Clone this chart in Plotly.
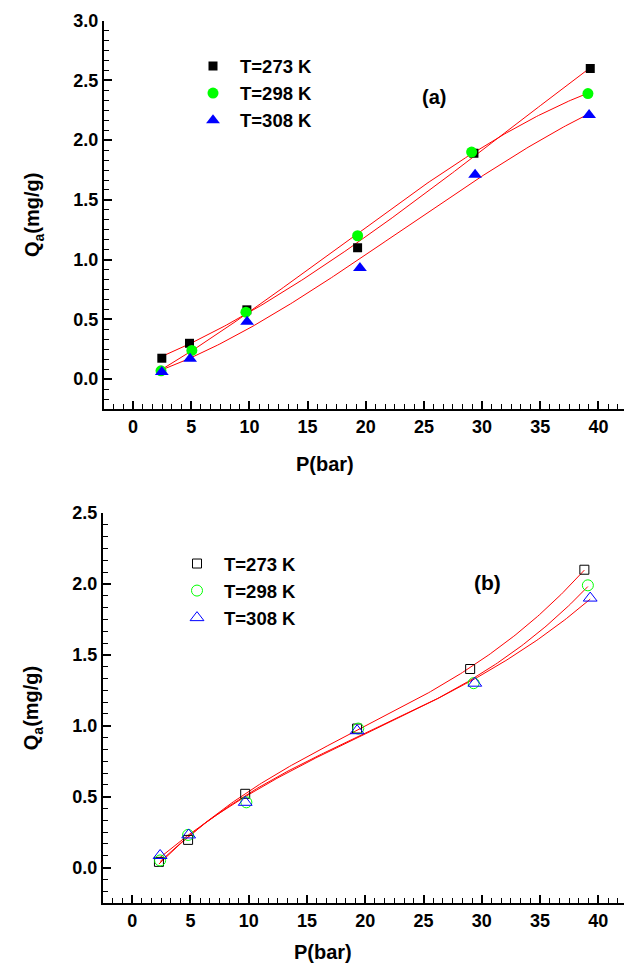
import numpy as np
import plotly.graph_objects as go

# ---- adsorption data: pressure P (bar) vs uptake Qa (mg/g) ----
temps = ["T=273 K", "T=298 K", "T=308 K"]

# panel (a)
p_a_273 = [2.47, 4.85, 9.78, 19.3, 29.3, 39.3]
q_a_273 = [0.175, 0.30, 0.58, 1.10, 1.89, 2.60]
p_a_298 = [2.40, 5.05, 9.70, 19.3, 29.1, 39.1]
q_a_298 = [0.07, 0.24, 0.56, 1.20, 1.90, 2.39]
p_a_308 = [2.47, 4.90, 9.80, 19.5, 29.4, 39.2]
q_a_308 = [0.06, 0.17, 0.48, 0.93, 1.71, 2.21]

# panel (b)
p_b_273 = [2.30, 4.80, 9.70, 19.3, 29.0, 38.8]
q_b_273 = [0.04, 0.195, 0.52, 0.98, 1.40, 2.10]
p_b_298 = [2.40, 4.80, 9.80, 19.4, 29.3, 39.1]
q_b_298 = [0.05, 0.23, 0.46, 0.98, 1.30, 1.99]
p_b_308 = [2.40, 4.85, 9.70, 19.3, 29.4, 39.3]
q_b_308 = [0.085, 0.23, 0.46, 0.965, 1.30, 1.90]

colors = ["#000000", "#00ff00", "#0000ff"]
sym_a = ["square", "circle", "triangle-up"]
sym_b = ["square-open", "circle-open", "triangle-up-open"]
size_a = [9, 11, 12]
size_b = [9, 11, 12]

FONT = "Liberation Sans, Arial, sans-serif"
W, H = 624, 965


def cubic_fit(p, q, n=200):
    coef = np.polyfit(p, q, 3)
    xs = np.linspace(min(p), max(p), n)
    return xs, np.polyval(coef, xs)


fig = go.Figure()

panel_a = [(p_a_273, q_a_273), (p_a_298, q_a_298), (p_a_308, q_a_308)]
panel_b = [(p_b_273, q_b_273), (p_b_298, q_b_298), (p_b_308, q_b_308)]

for i, (p, q) in enumerate(panel_a):
    xs, ys = cubic_fit(p, q)
    fig.add_trace(go.Scatter(x=xs, y=ys, mode="lines", line=dict(color="#ff0000", width=1),
                             showlegend=False, hoverinfo="skip", xaxis="x", yaxis="y"))
for i, (p, q) in enumerate(panel_a):
    fig.add_trace(go.Scatter(x=p, y=q, mode="markers", name=temps[i],
                             marker=dict(symbol=sym_a[i], size=size_a[i], color=colors[i],
                                         line=dict(width=0)),
                             xaxis="x", yaxis="y", legend="legend"))

for i, (p, q) in enumerate(panel_b):
    xs, ys = cubic_fit(p, q)
    fig.add_trace(go.Scatter(x=xs, y=ys, mode="lines", line=dict(color="#ff0000", width=1),
                             showlegend=False, hoverinfo="skip", xaxis="x2", yaxis="y2"))
for i, (p, q) in enumerate(panel_b):
    fig.add_trace(go.Scatter(x=p, y=q, mode="markers", name=temps[i],
                             marker=dict(symbol=sym_b[i], size=size_b[i], color=colors[i],
                                         line=dict(width=1, color=colors[i])),
                             xaxis="x2", yaxis="y2", legend="legend2"))


def px_x(v):
    return v / W


def px_y(v):
    return 1 - v / H


tickfont = dict(family=FONT, size=18, color="black", weight="bold")
titlefont = dict(family=FONT, size=20, color="black", weight="bold")
legendfont = dict(family=FONT, size=18.5, color="black", weight="bold")

xcommon = dict(range=[-2.5, 42.2], dtick=5, tick0=0, ticks="inside", ticklen=8, tickwidth=1.5,
               tickcolor="black", showline=True, linecolor="black", linewidth=2,
               showgrid=False, zeroline=False, tickfont=tickfont, automargin=False,
               minor=dict(dtick=5 / 6, tick0=0, ticks="inside", ticklen=5, tickwidth=1.2,
                          tickcolor="black", showgrid=False))
ycommon = dict(dtick=0.5, tick0=0, tickformat=".1f", ticks="inside", ticklen=8, tickwidth=1.5,
               tickcolor="black", showline=True, linecolor="black", linewidth=2,
               showgrid=False, zeroline=False, tickfont=tickfont, automargin=False,
               title=dict(text="Q<sub>a</sub>(mg/g)", font=titlefont, standoff=28),
               minor=dict(dtick=1 / 12, tick0=0, ticks="inside", ticklen=5, tickwidth=1.2,
                          tickcolor="black", showgrid=False))
topcommon = dict(range=[0, 520 / 52.5], dtick=1, tick0=0, ticks="inside", ticklen=4,
                 tickwidth=1.2, tickcolor="black", showline=True, linecolor="black",
                 linewidth=2, showgrid=False, zeroline=False, showticklabels=False,
                 side="top", automargin=False)

dom_a_y = [px_y(409), px_y(20.7)]
dom_b_y = [px_y(903), px_y(513)]


def label(text, x, y, size=20):
    return dict(text=text, x=px_x(x), y=px_y(y), xref="paper", yref="paper",
                xanchor="center", yanchor="middle", showarrow=False,
                font=dict(family=FONT, size=size, color="black", weight="bold"))


fig.update_layout(
    width=W, height=H,
    margin=dict(l=0, r=0, t=0, b=0),
    paper_bgcolor="white", plot_bgcolor="white",
    font=dict(family=FONT, color="black"),
    xaxis=dict(domain=[px_x(104), 1], anchor="y", **xcommon),
    yaxis=dict(domain=dom_a_y, anchor="x", range=[-0.25, 3.0], **ycommon),
    xaxis2=dict(domain=[px_x(103), 1], anchor="y2", **xcommon),
    yaxis2=dict(domain=dom_b_y, anchor="x2", range=[-0.25, 2.5], **ycommon),
    xaxis3=dict(overlaying="x", anchor="y", **topcommon),
    xaxis4=dict(overlaying="x2", anchor="y2", **topcommon),
    legend=dict(x=px_x(186), y=px_y(47.5), xanchor="left", yanchor="top",
                bgcolor="rgba(0,0,0,0)", borderwidth=0, itemwidth=44, font=legendfont),
    legend2=dict(x=px_x(170), y=px_y(545), xanchor="left", yanchor="top",
                 bgcolor="rgba(0,0,0,0)", borderwidth=0, itemwidth=44, font=legendfont),
    annotations=[
        label("P(bar)", 325, 464),
        label("P(bar)", 323, 952),
        label("(a)", 434, 97),
        label("(b)", 487, 582, size=21),
    ],
)

fig.write_html("out.html")
